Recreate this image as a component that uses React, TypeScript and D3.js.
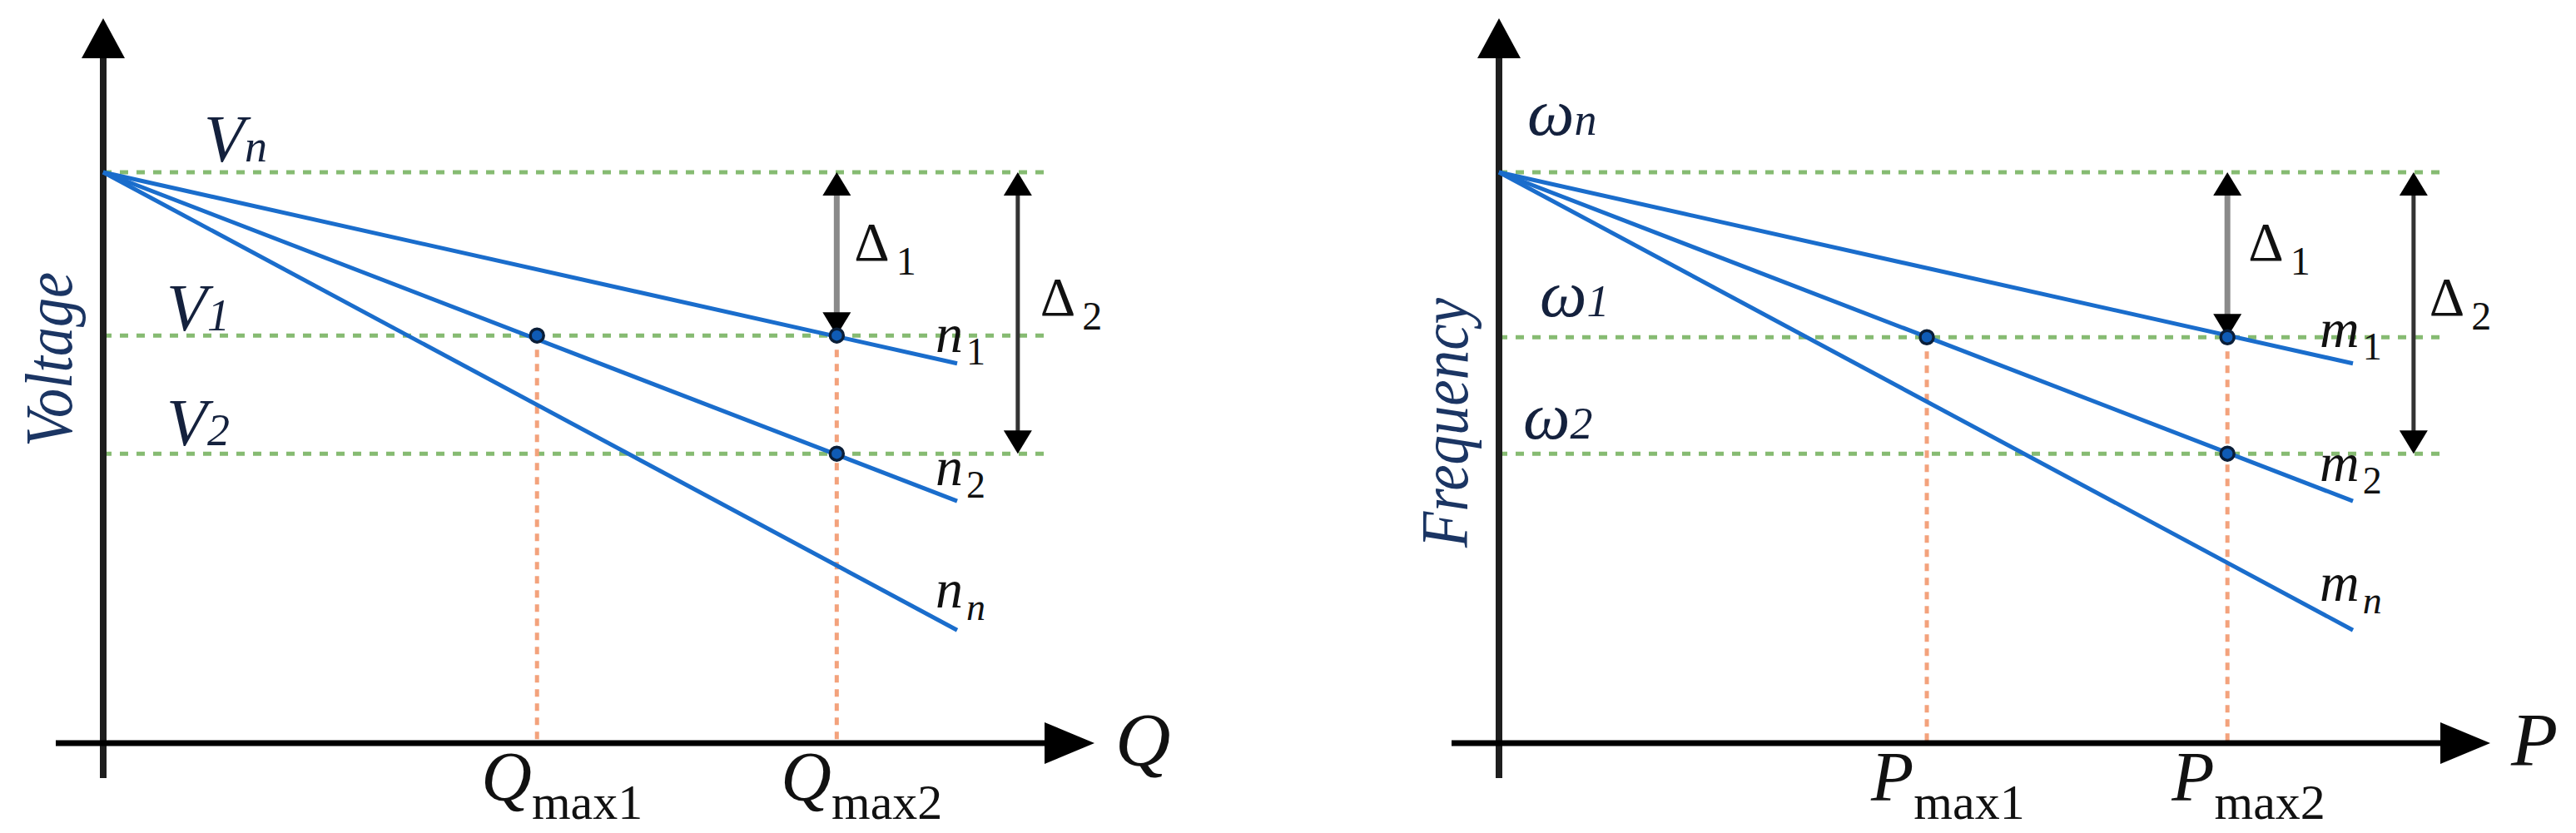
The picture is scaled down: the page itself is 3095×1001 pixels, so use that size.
import React from 'react';
import * as d3 from 'd3';

// left plot: voltage vs reactive power (values are fractions of Vn / of the line length)
const voltLevels = [1.0, 0.714, 0.507];       // Vn, V1, V2
const voltSubs = ['n', '1', '2'];
const voltDroopEnd = [0.665, 0.424, 0.198];   // n1, n2, nn at the end of each line
const voltDroopSubs = ['1', '2', 'n'];
const qMax = [0.508, 0.859];
const qMaxSubs = ['max1', 'max2'];

// right plot: frequency vs active power
const freqLevels = [1.0, 0.711, 0.507];       // wn, w1, w2
const freqSubs = ['n', '1', '2'];
const freqDroopEnd = [0.665, 0.424, 0.198];   // m1, m2, mn
const freqDroopSubs = ['1', '2', 'n'];
const pMax = [0.501, 0.853];
const pMaxSubs = ['max1', 'max2'];

const deltaSubs = ['1', '2'];

const W = 3095;
const H = 1001;
const SERIF = "'Liberation Serif', 'Times New Roman', serif";
const BLUE = '#1a6dcc';
const GREEN = '#86bb72';
const ORANGE = '#f3a27c';

type PanelProps = {
  axisX: number;
  levels: number[];
  levelSym: string;
  levelSubs: string[];
  levelLabelDx: number[];
  levelLabelDy: number[];
  droopEnd: number[];
  droopSym: string;
  droopSubs: string[];
  droopLabelDx: number;
  droopLabelDy: number[];
  droopSubDx: number;
  maxVals: number[];
  maxSym: string;
  maxSubs: string[];
  title: string;
  titleCy: number;
  titleLen: number;
  axisSym: string;
  deltaDx: number[];
};

function Panel(p: PanelProps) {
  const x = d3.scaleLinear().domain([0, 1]).range([p.axisX, p.axisX + 1026]);
  const y = d3.scaleLinear().domain([0, 1]).range([893, 207]);
  const line = d3.line<[number, number]>().x(d => x(d[0])).y(d => y(d[1]));

  const x0 = p.axisX;
  const yAxisTop = 22;
  const xAxisY = y(0);
  const xTip = x0 + 1191;
  const greenEnd = x(1.106);
  const d2x = x(1.071);
  const d1x = x(p.maxVals[1]);

  const dots: [number, number][] = [
    [p.maxVals[0], p.levels[1]],
    [p.maxVals[1], p.levels[1]],
    [p.maxVals[1], p.levels[2]],
  ];

  const vArrow = (ax: number, yTop: number, yBot: number, col: string, sw: number, key: string) => (
    <g key={key}>
      <line x1={ax} x2={ax} y1={yTop + 20} y2={yBot - 20} stroke={col} strokeWidth={sw} />
      <polygon points={`${ax},${yTop} ${ax - 17},${yTop + 28} ${ax + 17},${yTop + 28}`} fill="#000" />
      <polygon points={`${ax},${yBot} ${ax - 17},${yBot - 28} ${ax + 17},${yBot - 28}`} fill="#000" />
    </g>
  );

  return (
    <g>
      {/* reference levels */}
      {p.levels.map((lv, i) => (
        <line key={'g' + i} x1={x0} x2={greenEnd} y1={y(lv)} y2={y(lv)}
          stroke={GREEN} strokeWidth={5} strokeDasharray="10 10" />
      ))}
      {/* max power drop lines */}
      {p.maxVals.map((m, i) => (
        <line key={'o' + i} x1={x(m)} x2={x(m)} y1={y(p.levels[1])} y2={xAxisY}
          stroke={ORANGE} strokeWidth={5} strokeDasharray="9 8" />
      ))}

      {/* axes */}
      <line x1={x0} x2={x0} y1={yAxisTop + 40} y2={935} stroke="#1e1e1e" strokeWidth={8} />
      <polygon points={`${x0},${yAxisTop} ${x0 - 26},${yAxisTop + 48} ${x0 + 26},${yAxisTop + 48}`} fill="#000" />
      <line x1={x0 - 57} x2={xTip - 50} y1={xAxisY} y2={xAxisY} stroke="#000" strokeWidth={7} />
      <polygon points={`${xTip},${xAxisY} ${xTip - 60},${xAxisY - 25} ${xTip - 60},${xAxisY + 25}`} fill="#000" />

      {/* droop lines */}
      {p.droopEnd.map((e, i) => (
        <path key={'l' + i} d={line([[0, 1], [1, e]]) || ''} fill="none" stroke={BLUE} strokeWidth={5} />
      ))}

      {/* delta arrows */}
      {vArrow(d1x, y(p.levels[0]), y(p.levels[1]), '#8a8a8a', 7, 'd1')}
      {vArrow(d2x, y(p.levels[0]), y(p.levels[2]), '#333', 5, 'd2')}

      {dots.map((d, i) => (
        <circle key={'c' + i} cx={x(d[0])} cy={y(d[1])} r={8} fill="#0f5bb5" stroke="#0a1e38" strokeWidth={3.5} />
      ))}

      {/* level labels */}
      {p.levels.map((lv, i) => (
        <text key={'t' + i} x={x0 + p.levelLabelDx[i]} y={y(lv) + p.levelLabelDy[i]}
          fontFamily={SERIF} fontStyle="italic" fontSize={80} fill="#14213d">
          {p.levelSym}<tspan fontSize={54}>{p.levelSubs[i]}</tspan>
        </text>
      ))}

      {/* droop labels */}
      {p.droopEnd.map((e, i) => (
        <text key={'n' + i} x={x(1) + p.droopLabelDx} y={y(e) + p.droopLabelDy[i]}
          fontFamily={SERIF} fontStyle="italic" fontSize={66} fill="#111">
          {p.droopSym}
          <tspan dx={p.droopSubDx} dy={15} fontSize={46}
            fontStyle={p.droopSubs[i] === 'n' ? 'italic' : 'normal'}>{p.droopSubs[i]}</tspan>
        </text>
      ))}

      {/* delta labels */}
      {[d1x, d2x].map((ax, i) => (
        <text key={'dl' + i} x={ax + p.deltaDx[i]} y={i === 0 ? 313 : 379}
          fontFamily={SERIF} fontSize={66} fill="#111">
          Δ<tspan dx={8} dy={17} fontSize={48}>{deltaSubs[i]}</tspan>
        </text>
      ))}

      {/* max labels */}
      {p.maxVals.map((m, i) => (
        <text key={'m' + i} x={x(m) - 67} y={962}
          fontFamily={SERIF} fontStyle="italic" fontSize={84} fill="#111">
          {p.maxSym}
          <tspan dy={22} fontSize={60} fontStyle="normal">{p.maxSubs[i]}</tspan>
        </text>
      ))}

      {/* axis symbols */}
      <text x={xTip + 25} y={920} fontFamily={SERIF} fontStyle="italic" fontSize={92} fill="#111">
        {p.axisSym}
      </text>
      <text transform={`translate(${x0 - 38},${p.titleCy}) rotate(-90)`} textAnchor="middle"
        fontFamily={SERIF} fontStyle="italic" fontSize={80} fill="#1b3563"
        textLength={p.titleLen} lengthAdjust="spacingAndGlyphs">
        {p.title}
      </text>
    </g>
  );
}

export default function App() {
  return (
    <svg width={W} height={H} style={{ position: 'absolute', left: 0, top: 0, background: '#fff' }}>
      <Panel
        axisX={124}
        levels={voltLevels}
        levelSym="V"
        levelSubs={voltSubs}
        levelLabelDx={[121, 76, 76]}
        levelLabelDy={[-13, -6, -10]}
        droopEnd={voltDroopEnd}
        droopSym="n"
        droopSubs={voltDroopSubs}
        droopLabelDx={-26}
        droopLabelDy={[-14, -19, -27]}
        droopSubDx={4}
        maxVals={qMax}
        maxSym="Q"
        maxSubs={qMaxSubs}
        title="Voltage"
        titleCy={432}
        titleLen={210}
        axisSym="Q"
        deltaDx={[21, 27]}
      />
      <Panel
        axisX={1801}
        levels={freqLevels}
        levelSym="ω"
        levelSubs={freqSubs}
        levelLabelDx={[34, 49, 29]}
        levelLabelDy={[-45, -25, -18]}
        droopEnd={freqDroopEnd}
        droopSym="m"
        droopSubs={freqDroopSubs}
        droopLabelDx={-40}
        droopLabelDy={[-20, -24, -35]}
        droopSubDx={4}
        maxVals={pMax}
        maxSym="P"
        maxSubs={pMaxSubs}
        title="Frequency"
        titleCy={508}
        titleLen={300}
        axisSym="P"
        deltaDx={[25, 19]}
      />
    </svg>
  );
}
